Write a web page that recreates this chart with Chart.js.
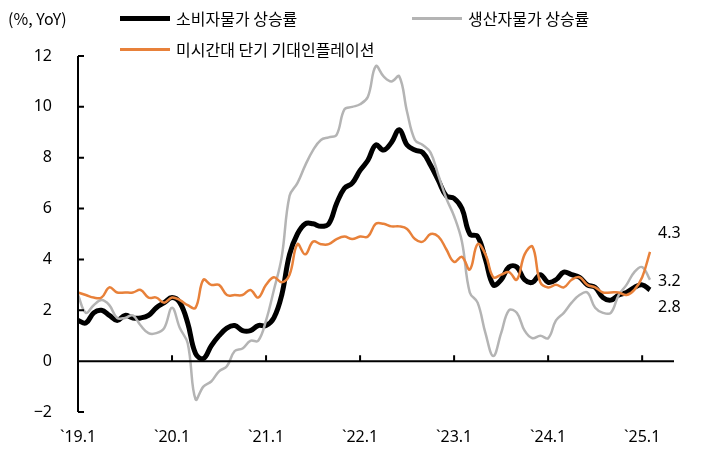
<!DOCTYPE html>
<html><head><meta charset="utf-8">
<script src="https://cdn.jsdelivr.net/npm/chart.js@4"></script>
<style>
body{margin:0;background:#fff;font-family:"Noto Sans CJK KR","Noto Sans",sans-serif;}
#wrap{position:relative;width:722px;height:451px;}
.lg{position:absolute;font-size:16px;color:#000;display:flex;align-items:center;white-space:nowrap;}
.lg i{display:inline-block;width:50px;margin-right:6px;}
</style></head><body>
<div id="wrap">
<canvas id="c" width="722" height="451"></canvas>
<div class="lg" style="left:8px;top:6px;">(%, YoY)</div>
<div class="lg" style="left:120px;top:6px;"><i style="border-top:5px solid #000"></i>소비자물가 상승률</div>
<div class="lg" style="left:412px;top:6px;"><i style="border-top:3px solid #b4b4b4"></i>생산자물가 상승률</div>
<div class="lg" style="left:120px;top:37px;"><i style="border-top:3px solid #e8813a"></i>미시간대 단기 기대인플레이션</div>
</div>
<script>
const years = ["19","20","21","22","23","24","25"];
const cpi = [1.6,1.5,1.9,2.0,1.8,1.6,1.8,1.7,1.7,1.8,2.1,2.3,
  2.5,2.3,1.5,0.3,0.1,0.6,1.0,1.3,1.4,1.2,1.2,1.4,
  1.4,1.7,2.6,4.2,5.0,5.4,5.4,5.3,5.4,6.2,6.8,7.0,
  7.5,7.9,8.5,8.3,8.6,9.1,8.5,8.3,8.2,7.7,7.1,6.5,
  6.4,6.0,5.0,4.9,4.0,3.0,3.2,3.7,3.7,3.2,3.1,3.4,
  3.1,3.2,3.5,3.4,3.3,3.0,2.9,2.5,2.4,2.6,2.7,2.9,
  3.0,2.8];
const ppi = [2.6,1.9,2.2,2.4,2.2,1.7,1.7,1.8,1.4,1.1,1.1,1.3,
  2.1,1.3,0.7,-1.5,-1.0,-0.8,-0.4,-0.2,0.4,0.5,0.8,0.8,
  1.6,2.8,4.1,6.5,7.0,7.7,8.3,8.7,8.8,8.9,9.9,10.0,
  10.1,10.4,11.6,11.2,11.0,11.2,9.8,8.7,8.5,8.2,7.3,6.4,
  5.7,4.7,2.7,2.3,1.1,0.2,1.1,2.0,1.9,1.2,0.9,1.0,
  0.9,1.6,1.9,2.3,2.6,2.7,2.1,1.9,1.9,2.6,3.0,3.5,
  3.7,3.2];
const mich = [2.7,2.6,2.5,2.5,2.9,2.7,2.7,2.7,2.8,2.5,2.5,2.3,
  2.5,2.4,2.2,2.1,3.2,3.0,3.0,2.6,2.6,2.6,2.8,2.5,
  3.0,3.3,3.1,3.4,4.6,4.2,4.7,4.6,4.6,4.8,4.9,4.8,
  4.9,4.9,5.4,5.4,5.3,5.3,5.2,4.8,4.7,5.0,4.9,4.4,
  3.9,4.1,3.6,4.6,4.2,3.3,3.4,3.5,3.2,4.2,4.5,3.1,
  2.9,3.0,2.9,3.2,3.3,3.0,2.9,2.7,2.7,2.7,2.6,2.8,
  3.3,4.3];
const labels = cpi.map((_, i) => "`" + years[Math.floor(i / 12)] + "." + (i % 12 + 1));
const yTicks = [-2, 0, 2, 4, 6, 8, 10, 12];
const font = { family: "'Noto Sans', sans-serif", size: 16 };

const axisPlugin = {
  id: "axisPlugin",
  afterDraw(chart) {
    const ctx = chart.ctx;
    const x = chart.scales.x, y = chart.scales.y;
    const y0 = y.getPixelForValue(0);
    const step = x.getPixelForValue(12) - x.getPixelForValue(0);
    ctx.save();
    ctx.setLineDash([]);
    ctx.globalAlpha = 1;
    ctx.strokeStyle = "#000";
    ctx.lineWidth = 2;
    ctx.beginPath();
    ctx.moveTo(x.left, y0); ctx.lineTo(x.right + 24, y0);
    ctx.moveTo(x.left, y.top); ctx.lineTo(x.left, y.bottom);
    yTicks.forEach(v => { const p = y.getPixelForValue(v); ctx.moveTo(x.left, p); ctx.lineTo(x.left + 6, p); });
    for (let k = 1; k <= 7; k++) {
      const p = x.left + step * k;
      ctx.moveTo(p, y0); ctx.lineTo(p, y0 - 6);
    }
    ctx.stroke();
    ctx.fillStyle = "#000";
    ctx.font = "16px 'Noto Sans', sans-serif";
    const n = labels.length - 1;
    const xe = x.getPixelForValue(n) + 8;
    ctx.fillText(mich[n].toFixed(1), xe, y.getPixelForValue(mich[n]) - 14);
    ctx.fillText(ppi[n].toFixed(1), xe, y.getPixelForValue(ppi[n]) + 6);
    ctx.fillText(cpi[n].toFixed(1), xe, y.getPixelForValue(cpi[n]) + 22);
    ctx.restore();
  }
};

new Chart(document.getElementById("c"), {
  type: "line",
  data: {
    labels: labels,
    datasets: [
      { data: mich, borderColor: "#e8813a", borderWidth: 2.5, tension: 0.4, pointRadius: 0 },
      { data: ppi, borderColor: "#b4b4b4", borderWidth: 2.5, tension: 0.4, pointRadius: 0 },
      { data: cpi, borderColor: "#000", borderWidth: 5, tension: 0.4, pointRadius: 0 },
    ],
  },
  options: {
    responsive: false,
    animation: false,
    layout: { padding: { top: 56, right: 72, left: 0, bottom: 0 } },
    plugins: { legend: { display: false }, tooltip: { enabled: false } },
    scales: {
      x: {
        offset: false,
        grid: { display: false },
        border: { display: false },
        afterFit(s) { s.height = 39; },
        ticks: {
          color: "#000", font: font, autoSkip: false, maxRotation: 0, padding: 8,
          callback(v, i) { return i % 12 === 0 ? labels[i] : ""; },
        },
      },
      y: {
        min: -2, max: 12,
        afterFit(s) { s.width = 78; },
        afterBuildTicks(s) { s.ticks = yTicks.map(v => ({ value: v })); },
        grid: { display: false },
        border: { display: false },
        ticks: { color: "#000", font: font, padding: 18, callback: v => v < 0 ? "−" + Math.abs(v) : v },
      },
    },
  },
  plugins: [axisPlugin],
});
</script>
</body></html>
